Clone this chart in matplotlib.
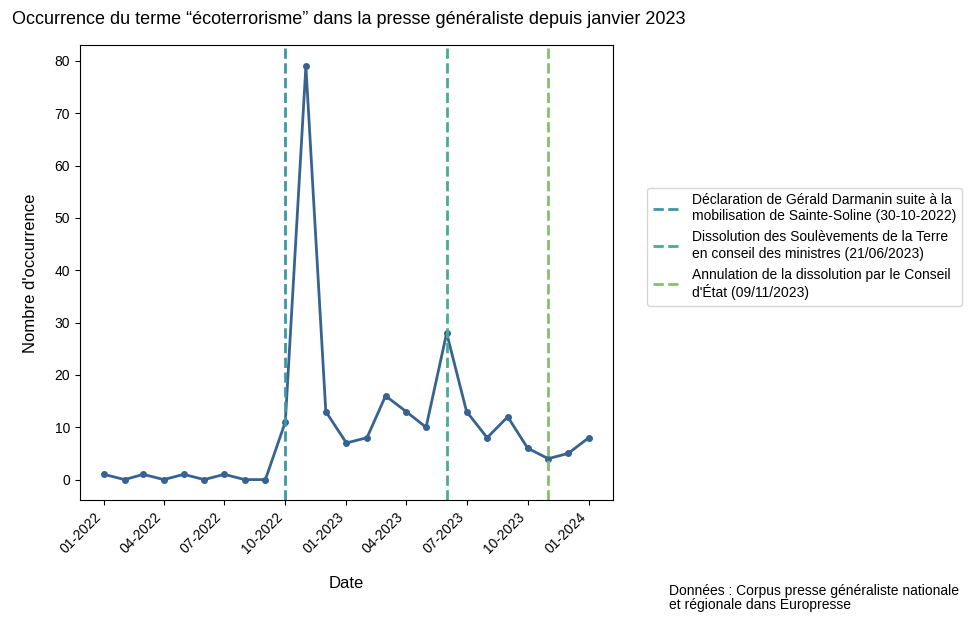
import matplotlib

matplotlib.use("Agg")
import matplotlib.dates as mdates
import matplotlib.pyplot as plt
import pandas as pd

plt.rcParams["font.family"] = ["Liberation Sans", "DejaVu Sans"]

# monthly counts, 01-2022 -> 01-2024
months = pd.date_range("2022-01-01", "2024-01-01", freq="MS")
counts = [1, 0, 1, 0, 1, 0, 1, 0, 0, 11, 79, 13, 7, 8, 16, 13, 10, 28, 13, 8, 12, 6, 4, 5, 8]

events = ["2022-10-01", "2023-06-01", "2023-11-01"]
event_labels = [
    "Déclaration de Gérald Darmanin suite à la\nmobilisation de Sainte-Soline (30-10-2022)",
    "Dissolution des Soulèvements de la Terre\nen conseil des ministres (21/06/2023)",
    "Annulation de la dissolution par le Conseil\nd'État (09/11/2023)",
]
event_colors = ["#3d98a3", "#47ad93", "#86c06c"]

fig = plt.figure(figsize=(9.73, 6.23), dpi=100)
ax = fig.add_axes([0.082, 0.197, 0.548, 0.73])

ax.plot(months, counts, color="#36638f", linewidth=2, marker="o", markersize=4)
for d, lab, c in zip(events, event_labels, event_colors):
    ax.axvline(pd.Timestamp(d), color=c, linestyle="--", linewidth=2, label=lab)

ax.set_yticks(range(0, 81, 10))
ax.xaxis.set_major_locator(mdates.MonthLocator(bymonth=[1, 4, 7, 10]))
ax.xaxis.set_major_formatter(mdates.DateFormatter("%m-%Y"))
plt.setp(ax.get_xticklabels(), rotation=45, ha="right")
ax.tick_params(labelsize=10)

ax.set_xlabel("Date", fontsize=12, labelpad=14)
ax.set_ylabel("Nombre d'occurrence", fontsize=12, labelpad=12)
fig.text(0.012, 0.968, "Occurrence du terme “écoterrorisme” dans la presse généraliste depuis janvier 2023",
         fontsize=13, va="center", ha="left")

ax.legend(loc="center left", bbox_to_anchor=(0.658, 0.604), bbox_transform=fig.transFigure,
          fontsize=10, handlelength=2, labelspacing=0.5, frameon=True)

fig.text(0.688, 0.04, "Données : Corpus presse généraliste nationale\net régionale dans Europresse",
         fontsize=10, ha="left", va="center", linespacing=1.0)

fig.savefig("out.png", dpi=100)
plt.close(fig)
